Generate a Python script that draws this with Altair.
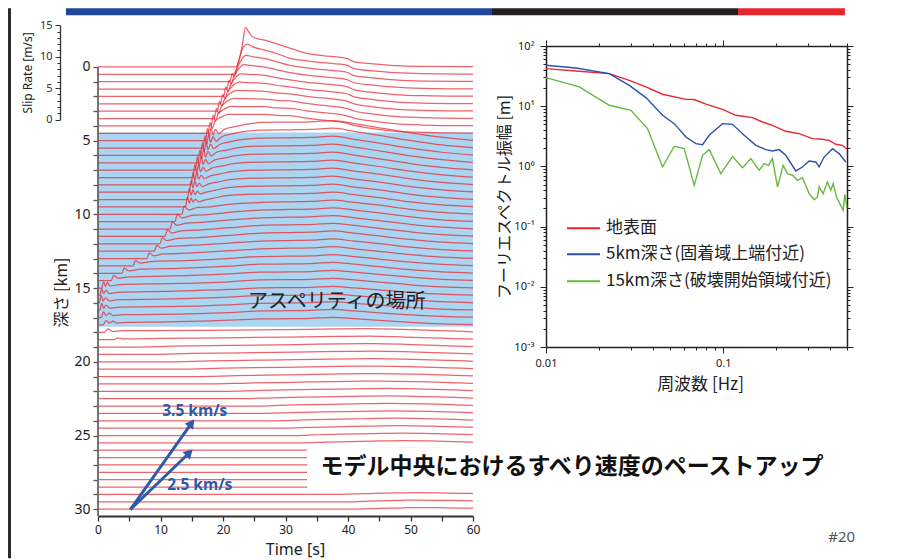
import altair as alt
import pandas as pd

# ---------------- panel geometry ----------------
LEFT_W, LEFT_H = 375, 470
RIGHT_W, RIGHT_H = 301, 301
GAP = 73
T_DOMAIN = [0, 60]
DEPTH_DOMAIN = [-1.42, 30.46]
PX_PER_KM = LEFT_H / (DEPTH_DOMAIN[1] - DEPTH_DOMAIN[0])
PX_PER_MS = 6.287                      # slip-rate scale bar: pixels per m/s
KM_PER_MS = PX_PER_MS / PX_PER_KM
SLIP_ZERO_DEPTH = 3.57                 # where the 0 of the slip-rate bar sits
SLIP_ZERO_PX = (SLIP_ZERO_DEPTH - DEPTH_DOMAIN[0]) * PX_PER_KM

RED = "#e8262f"
BLUE_TXT = "#2a5caa"
JP = "Noto Sans CJK JP"

# ---------------- slip-rate traces (time s, slip rate m/s) ----------------
upper_depths = [0.0, 0.5, 1.0, 1.5, 2.0, 2.5, 3.0, 3.5, 4.0, 4.5]
upper_front = [
    [(22.0, 0), (22.6, 1.2), (23.1, 3.5), (23.6, 6.3), (24.1, 5.6), (24.6, 4.9), (25.5, 4.5)],
    [(21.6, 0), (22.2, 1.0), (22.7, 2.8), (23.3, 4.4), (23.9, 4.8), (24.7, 4.4)],
    [(21.1, 0), (21.5, 1.3), (21.8, 0.8), (22.3, 2.2), (23.0, 3.6), (23.7, 4.2), (24.6, 4.0)],
    [(20.6, 0), (21.0, 1.4), (21.3, 0.8), (21.7, 1.9), (22.5, 3.2), (23.3, 3.9), (24.4, 3.75)],
    [(20.1, 0), (20.45, 1.5), (20.8, 0.8), (21.2, 1.8), (22.0, 3.0), (22.9, 3.6), (24.2, 3.5)],
    [(19.6, 0), (19.95, 1.5), (20.3, 0.8), (20.7, 1.8), (21.6, 2.9), (22.6, 3.45), (24.0, 3.35)],
    [(19.1, 0), (19.45, 1.6), (19.8, 0.8), (20.2, 1.8), (21.1, 2.8), (22.2, 3.3), (23.8, 3.25)],
    [(18.6, 0), (18.95, 1.6), (19.3, 0.8), (19.7, 1.8), (20.6, 2.7), (21.8, 3.2), (23.5, 3.15)],
    [(18.1, 0), (18.45, 1.7), (18.8, 0.8), (19.2, 1.9), (20.1, 2.6), (21.3, 3.1), (23.2, 3.05)],
    [(17.6, 0), (17.95, 1.7), (18.3, 0.8), (18.7, 1.9), (19.6, 2.5), (20.8, 3.0), (23.0, 3.0)],
]
upper_late_t = [26.7, 28.5, 30.7, 33.4, 36.0, 39.8, 41.0, 44.0, 47.5, 52.0, 60.0]
upper_late_v = [
    [4.25, 3.7, 3.0, 2.15, 1.8, 1.35, 0.8, 0.5, 0.22, 0.08, 0.03],
    [3.85, 3.35, 2.55, 2.15, 1.85, 1.45, 0.9, 0.55, 0.25, 0.1, 0.03],
    [3.65, 3.2, 2.6, 2.2, 1.9, 1.5, 0.95, 0.6, 0.28, 0.1, 0.03],
    [3.5, 3.1, 2.6, 2.2, 1.95, 1.5, 1.0, 0.62, 0.3, 0.12, 0.03],
    [3.35, 3.0, 2.65, 2.25, 2.0, 1.55, 1.05, 0.65, 0.3, 0.12, 0.03],
    [3.25, 2.95, 2.7, 2.3, 2.05, 1.6, 1.1, 0.68, 0.32, 0.12, 0.03],
    [3.15, 2.9, 2.75, 2.35, 2.1, 1.6, 1.15, 0.7, 0.33, 0.13, 0.03],
    [3.1, 2.9, 2.8, 2.4, 2.1, 1.6, 1.2, 0.72, 0.35, 0.14, 0.03],
    [3.05, 2.85, 2.8, 2.4, 2.1, 1.6, 1.25, 0.75, 0.35, 0.14, 0.03],
    [3.0, 2.85, 2.8, 2.4, 2.1, 1.6, 1.25, 0.75, 0.35, 0.14, 0.03],
]

blue_depths = [5.0, 5.5, 6.0, 6.5, 7.0, 7.5, 8.0, 8.5, 9.0, 9.5, 10.0, 10.5, 11.0,
               11.5, 12.0, 12.5, 13.0, 13.5, 14.0, 14.5, 15.0, 15.5, 16.0, 16.5, 17.0, 17.5]
blue_front = [
    [(17.2, 0), (17.5, 1.9), (17.8, 0.7), (18.1, 2.1), (18.4, 0.9), (18.8, 1.8), (19.3, 1.1), (20.2, 1.8), (21.7, 2.2), (23.7, 2.6)],
    [(16.8, 0), (17.1, 1.9), (17.4, 0.7), (17.7, 2.1), (18.0, 0.9), (18.4, 1.8), (18.9, 1.1), (19.8, 1.8), (21.3, 2.2), (23.3, 2.6)],
    [(16.4, 0), (16.7, 2.0), (17.0, 0.7), (17.3, 2.2), (17.6, 0.9), (18.0, 1.8), (18.5, 1.1), (19.4, 1.7), (20.9, 2.1), (22.9, 2.5)],
    [(16.0, 0), (16.3, 2.0), (16.6, 0.7), (16.9, 2.2), (17.2, 0.9), (17.6, 1.8), (18.1, 1.1), (19.0, 1.7), (20.5, 2.0), (22.5, 2.4)],
    [(15.6, 0), (15.9, 2.1), (16.2, 0.7), (16.5, 2.2), (16.8, 0.9), (17.2, 1.7), (17.7, 1.0), (18.6, 1.6), (20.1, 1.9), (22.1, 2.3)],
    [(15.2, 0), (15.5, 2.1), (15.8, 0.7), (16.1, 2.1), (16.4, 0.9), (16.8, 1.6), (17.3, 1.0), (18.2, 1.5), (19.7, 1.8), (21.7, 2.2)],
    [(14.9, 0), (15.2, 2.0), (15.5, 0.7), (15.8, 2.0), (16.1, 0.9), (16.5, 1.5), (17.0, 1.0), (17.9, 1.4), (19.4, 1.7), (21.4, 2.1)],
    [(14.6, 0), (14.9, 1.9), (15.2, 0.7), (15.5, 1.8), (15.8, 0.9), (16.2, 1.4), (16.7, 0.9), (17.6, 1.3), (19.1, 1.6), (21.1, 2.0)],
    [(14.3, 0), (14.6, 1.8), (14.9, 0.7), (15.2, 1.6), (15.5, 0.8), (15.9, 1.3), (16.4, 0.9), (17.3, 1.2), (18.8, 1.5), (20.8, 1.9)],
    [(14.0, 0), (14.3, 1.6), (14.6, 0.6), (14.9, 1.4), (15.2, 0.8), (15.6, 1.2), (16.1, 0.8), (17.0, 1.1), (18.5, 1.4), (20.5, 1.8)],
    [(13.4, 0), (13.8, 1.3), (14.5, 0.7), (16.0, 1.1), (18.0, 1.2), (21.0, 1.6)],
    [(12.3, 0), (12.7, 1.2), (13.4, 0.6), (15.0, 1.0), (17.5, 1.15), (21.0, 1.5)],
    [(11.5, 0), (11.9, 1.1), (12.6, 0.6), (14.2, 0.95), (17.0, 1.1), (21.0, 1.45)],
    [(10.7, 0), (11.1, 1.05), (11.8, 0.55), (13.4, 0.9), (16.5, 1.05), (21.0, 1.4)],
    [(9.9, 0), (10.3, 1.0), (11.0, 0.5), (12.6, 0.85), (16.0, 1.0), (21.0, 1.35)],
    [(9.0, 0), (9.4, 0.95), (10.1, 0.5), (11.7, 0.8), (15.5, 0.95), (21.0, 1.3)],
    [(7.8, 0), (8.2, 0.9), (8.9, 0.45), (10.5, 0.75), (15.0, 0.9), (21.0, 1.25)],
    [(5.6, 0), (6.0, 0.85), (6.7, 0.45), (8.5, 0.7), (14.0, 0.85), (21.0, 1.2)],
    [(3.8, 0), (4.2, 0.85), (4.9, 0.4), (6.8, 0.65), (13.0, 0.8), (21.0, 1.15)],
    [(2.1, 0), (2.5, 0.85), (3.2, 0.4), (5.0, 0.6), (12.0, 0.75), (21.0, 1.1)],
    [(0.6, 0), (0.9, 1.0), (1.2, 0.3), (1.5, 0.9), (1.9, 0.35), (3.5, 0.55), (11.0, 0.7), (21.0, 1.0)],
    [(0.3, 0), (0.6, 1.1), (0.9, 0.3), (1.3, 0.8), (1.8, 0.3), (3.2, 0.5), (10.5, 0.65), (21.0, 0.95)],
    [(0.2, 0), (0.5, 1.2), (0.8, 0.3), (1.2, 0.8), (1.8, 0.3), (3.2, 0.5), (10.0, 0.6), (21.0, 0.9)],
    [(0.3, 0), (0.6, 1.1), (0.9, 0.3), (1.3, 0.8), (1.9, 0.3), (3.4, 0.5), (10.0, 0.55), (21.0, 0.85)],
    [(0.5, 0), (0.9, 0.9), (1.3, 0.3), (1.8, 0.7), (2.4, 0.3), (4.0, 0.45), (10.0, 0.5), (21.0, 0.8)],
    [(0.8, 0), (1.3, 0.7), (1.8, 0.3), (2.4, 0.6), (3.0, 0.3), (4.8, 0.4), (10.0, 0.45), (21.0, 0.75)],
]
blue_late_t = [26.0, 30.7, 34.0, 37.6, 41.0, 45.0, 50.0, 55.0, 60.0]
blue_late_v = [
    [2.9, 2.95, 3.0, 3.2, 2.7, 2.05, 1.25, 0.55, 0.05],
    [2.85, 2.9, 2.95, 3.15, 2.65, 2.0, 1.2, 0.5, 0.05],
    [2.75, 2.8, 2.85, 3.05, 2.55, 1.95, 1.15, 0.5, 0.05],
    [2.65, 2.7, 2.75, 2.95, 2.5, 1.9, 1.1, 0.48, 0.05],
    [2.55, 2.6, 2.65, 2.85, 2.4, 1.8, 1.05, 0.45, 0.05],
    [2.45, 2.5, 2.55, 2.75, 2.3, 1.75, 1.0, 0.43, 0.05],
    [2.35, 2.4, 2.45, 2.65, 2.2, 1.7, 0.95, 0.4, 0.05],
    [2.25, 2.3, 2.35, 2.55, 2.1, 1.6, 0.9, 0.38, 0.05],
    [2.15, 2.2, 2.25, 2.45, 2.0, 1.55, 0.85, 0.36, 0.05],
    [2.05, 2.1, 2.15, 2.35, 1.95, 1.5, 0.8, 0.34, 0.05],
    [1.9, 2.0, 2.05, 2.25, 1.9, 1.45, 0.8, 0.32, 0.05],
    [1.85, 1.95, 2.0, 2.2, 1.85, 1.4, 0.78, 0.3, 0.05],
    [1.8, 1.9, 1.95, 2.15, 1.8, 1.35, 0.75, 0.3, 0.05],
    [1.75, 1.85, 1.9, 2.1, 1.75, 1.3, 0.72, 0.28, 0.05],
    [1.7, 1.8, 1.85, 2.05, 1.7, 1.25, 0.7, 0.27, 0.05],
    [1.6, 1.7, 1.75, 1.95, 1.6, 1.2, 0.66, 0.26, 0.05],
    [1.55, 1.65, 1.7, 1.9, 1.55, 1.15, 0.63, 0.25, 0.05],
    [1.5, 1.55, 1.6, 1.8, 1.5, 1.1, 0.6, 0.24, 0.05],
    [1.45, 1.5, 1.55, 1.75, 1.45, 1.05, 0.58, 0.23, 0.05],
    [1.35, 1.4, 1.45, 1.65, 1.35, 1.0, 0.55, 0.22, 0.05],
    [1.3, 1.35, 1.4, 1.55, 1.3, 0.95, 0.52, 0.2, 0.05],
    [1.2, 1.25, 1.3, 1.45, 1.2, 0.9, 0.5, 0.2, 0.05],
    [1.15, 1.2, 1.25, 1.4, 1.15, 0.85, 0.47, 0.19, 0.05],
    [1.1, 1.15, 1.2, 1.35, 1.1, 0.8, 0.45, 0.18, 0.05],
    [1.05, 1.1, 1.15, 1.3, 1.05, 0.75, 0.42, 0.17, 0.05],
    [0.95, 1.0, 1.05, 1.2, 1.0, 0.72, 0.4, 0.16, 0.05],
]

lower_depths = [18.0, 18.5, 19.0, 19.5, 20.0, 20.5, 21.0, 21.5, 22.0, 22.5, 23.0, 23.5,
                24.0, 24.5, 25.0, 25.5, 26.0, 26.5, 27.0, 27.5, 28.0, 28.5, 29.0, 29.5, 30.0]
lower_points = [
    [(1.0, 0), (1.6, 0.55), (2.3, 0.15), (4, 0.25), (15, 0.3), (30, 0.42), (38, 0.55), (43, 0.6), (49, 0.45), (55, 0.25), (60, 0.08)],
    [(2.5, 0), (3.2, 0.3), (4.0, 0.12), (10, 0.2), (20, 0.3), (30, 0.4), (38, 0.52), (43.5, 0.56), (49, 0.42), (55, 0.24), (60, 0.08)],
    [(5.5, 0), (12, 0.15), (22, 0.28), (32, 0.4), (39, 0.5), (44, 0.54), (50, 0.4), (55, 0.24), (60, 0.08)],
    [(8.0, 0), (15, 0.15), (25, 0.28), (34, 0.4), (40, 0.48), (44, 0.52), (50, 0.4), (55, 0.24), (60, 0.08)],
    [(10.5, 0), (18, 0.15), (27, 0.28), (35, 0.4), (41, 0.48), (44.5, 0.5), (50.5, 0.38), (56, 0.22), (60, 0.08)],
    [(13.0, 0), (20, 0.15), (29, 0.28), (36, 0.4), (42, 0.47), (45, 0.5), (51, 0.38), (56, 0.22), (60, 0.09)],
    [(15.5, 0), (22, 0.14), (30, 0.27), (37, 0.38), (42.5, 0.45), (45, 0.48), (51, 0.37), (56, 0.22), (60, 0.09)],
    [(17.5, 0), (24, 0.14), (31, 0.26), (38, 0.37), (43, 0.44), (45.5, 0.46), (51.5, 0.36), (56.5, 0.22), (60, 0.09)],
    [(20.0, 0), (26, 0.14), (32, 0.25), (39, 0.36), (44, 0.43), (46, 0.45), (52, 0.35), (57, 0.21), (60, 0.1)],
    [(22.5, 0), (28, 0.14), (34, 0.25), (40, 0.35), (46, 0.44), (52, 0.34), (57, 0.21), (60, 0.1)],
    [(24.5, 0), (30, 0.14), (35, 0.24), (41, 0.34), (46.5, 0.42), (52.5, 0.33), (57, 0.2), (60, 0.1)],
    [(26.0, 0), (31, 0.13), (36, 0.23), (42, 0.33), (47, 0.4), (53, 0.32), (57.5, 0.2), (60, 0.11)],
    [(28.0, 0), (33, 0.13), (37, 0.22), (42, 0.32), (47.5, 0.4), (53, 0.31), (58, 0.2), (60, 0.12)],
    [(30.0, 0), (34, 0.12), (38, 0.21), (43, 0.31), (48, 0.38), (53.5, 0.3), (58, 0.2), (60, 0.12)],
    [(31.5, 0), (35, 0.12), (39, 0.21), (44, 0.31), (48.5, 0.37), (54, 0.29), (60, 0.13)],
    [(33.0, 0), (36.5, 0.12), (40, 0.2), (45, 0.3), (49, 0.36), (54, 0.29), (60, 0.13)],
    [(34.0, 0), (37.5, 0.12), (41, 0.2), (45.5, 0.29), (49, 0.35), (54.5, 0.28), (60, 0.14)],
    [(35.0, 0), (38.5, 0.12), (42, 0.2), (46, 0.28), (49.5, 0.34), (55, 0.27), (60, 0.14)],
    [(35.5, 0), (39, 0.11), (42.5, 0.19), (46.5, 0.27), (50, 0.33), (55, 0.26), (60, 0.14)],
    [(36.0, 0), (39.5, 0.11), (43, 0.19), (47, 0.27), (50, 0.32), (55.5, 0.25), (60, 0.15)],
    [(36.5, 0), (40, 0.1), (43.5, 0.18), (47.5, 0.26), (50.5, 0.31), (56, 0.24), (60, 0.15)],
    [(37.0, 0), (40.5, 0.1), (44, 0.18), (48, 0.25), (50.5, 0.3), (56, 0.24), (60, 0.15)],
    [(37.5, 0), (41, 0.1), (44.5, 0.17), (48, 0.24), (51, 0.3), (56, 0.23), (60, 0.16)],
    [(39.5, 0), (42.5, 0.09), (45.5, 0.16), (48.5, 0.23), (51, 0.29), (56, 0.22), (60, 0.16)],
    [(40.5, 0), (43.5, 0.08), (46.5, 0.16), (49, 0.23), (51, 0.27), (56, 0.21), (60, 0.16)],
]

# ---------------- Fourier spectra ----------------
spec_names = ["地表面", "5km深さ(固着域上端付近)", "15km深さ(破壊開始領域付近)"]
spec_colors = ["#e8262f", "#2a52a8", "#66b83e"]
red_f = [0.01, 0.01476, 0.02276, 0.02951, 0.03664, 0.0455, 0.06161, 0.06865, 0.07987, 0.09918,
         0.1179, 0.1464, 0.1667, 0.1898, 0.2258, 0.2684, 0.3192, 0.3635, 0.3963, 0.4322, 0.4713, 0.4985]
red_a = [42.1, 38.5, 34.8, 26.9, 20.9, 15.8, 13.0, 12.9, 10.8, 8.88,
         7.06, 6.46, 5.47, 4.82, 3.83, 3.5, 2.89, 2.82, 2.71, 2.33, 2.24, 1.95]
blue_f = [0.01, 0.01476, 0.02276, 0.02951, 0.03664, 0.0455, 0.05294, 0.06161, 0.07015, 0.07648,
          0.08341, 0.09918, 0.1129, 0.1314, 0.1529, 0.1741, 0.1898, 0.207, 0.2258, 0.257,
          0.2803, 0.3057, 0.3333, 0.348, 0.3715, 0.4139, 0.4513, 0.492]
blue_a = [47.8, 43.2, 34.8, 22.2, 13.9, 7.06, 5.13, 3.08, 2.39, 2.3,
          3.29, 5.13, 5.0, 3.29, 2.24, 1.9, 1.8, 1.9, 1.53, 0.84,
          0.978, 1.23, 1.185, 0.978, 1.43, 1.97, 1.63, 1.185]
green_f = [0.01, 0.01542, 0.02276, 0.03016, 0.03744, 0.0455, 0.05294, 0.06029, 0.06865, 0.07648,
           0.08341, 0.09705, 0.1129, 0.1286, 0.1433, 0.1597, 0.1704, 0.1803, 0.1898, 0.2026,
           0.2181, 0.2307, 0.2462, 0.2627, 0.2803, 0.3057, 0.3262, 0.3406, 0.348, 0.3667,
           0.3878, 0.405, 0.4175, 0.436, 0.4552, 0.4754, 0.4858, 0.4985]
green_a = [29.8, 20.9, 10.35, 8.55, 4.24, 0.978, 2.16, 1.97, 0.485, 1.53,
           1.9, 0.758, 1.47, 0.954, 1.35, 0.861, 1.11, 1.04, 1.35, 0.455,
           1.04, 0.758, 0.711, 0.588, 0.651, 0.353, 0.28, 0.311, 0.455, 0.353,
           0.551, 0.401, 0.517, 0.311, 0.241, 0.187, 0.344, 0.212]

# ---------------- build tables ----------------
rows = []


def add_trace(depth, pts):
    if pts[0][0] > 0:
        pts = [(0.0, 0.0)] + list(pts)
    for t, v in pts:
        rows.append({"depth": depth, "t": t, "v": v})


for d, fr, lv in zip(upper_depths, upper_front, upper_late_v):
    add_trace(d, list(fr) + list(zip(upper_late_t, lv)))
for d, fr, lv in zip(blue_depths, blue_front, blue_late_v):
    add_trace(d, list(fr) + list(zip(blue_late_t, lv)))
for d, pts in zip(lower_depths, lower_points):
    add_trace(d, pts)
traces = pd.DataFrame(rows)
traces["y"] = traces["depth"] - traces["v"] * KM_PER_MS

spec = pd.concat([
    pd.DataFrame({"f": red_f, "A": red_a, "s": spec_names[0], "k": 0}),
    pd.DataFrame({"f": blue_f, "A": blue_a, "s": spec_names[1], "k": 1}),
    pd.DataFrame({"f": green_f, "A": green_a, "s": spec_names[2], "k": 2}),
])

# ---------------- left panel ----------------
xs_l = alt.Scale(domain=T_DOMAIN, nice=False, zero=False)
ys_l = alt.Scale(domain=DEPTH_DOMAIN, reverse=True, nice=False, zero=False)

x_axis_l = alt.Axis(orient="bottom", values=list(range(0, 61, 5)),
                    labelExpr="datum.value % 10 == 0 ? datum.label : ''",
                    tickSize=5, tickWidth=1.3, tickColor="#333", domainColor="#333",
                    domainWidth=2, labelFontSize=12, labelColor="#222", labelPadding=3,
                    labelFlush=False, labelOverlap=False, grid=False,
                    title="Time [s]", titleFontSize=16, titleFontWeight="normal",
                    titleColor="#222", titleX=197, titleY=33, titleBaseline="middle",
                    titleAlign="center")
y_axis_l = alt.Axis(orient="left", values=list(range(0, 31)),
                    labelExpr="datum.value % 5 == 0 ? datum.label : ''",
                    tickSize=5, tickWidth=1.3, tickColor="#555", domain=False,
                    labelFontSize=14, labelColor="#222", labelPadding=3,
                    labelFlush=False, labelOverlap=False, grid=False,
                    title="深さ [km]", titleFont=JP, titleFontSize=16,
                    titleFontWeight="normal", titleColor="#222", titlePadding=4,
                    titleY=246)

asp = pd.DataFrame({"t0": [0], "t1": [60], "d0": [4.45], "d1": [17.62]})
asp_rect = alt.Chart(asp).mark_rect(color="#abd5f0").encode(
    x=alt.X("t0:Q", scale=xs_l, axis=None), x2="t1:Q",
    y=alt.Y("d0:Q", scale=ys_l, axis=None), y2="d1:Q")

trace_lines = alt.Chart(traces).mark_line(
    color=RED, strokeWidth=1.25, opacity=0.72, interpolate="monotone").encode(
    x=alt.X("t:Q", scale=xs_l, axis=x_axis_l),
    y=alt.Y("y:Q", scale=ys_l, axis=y_axis_l),
    detail="depth:N")

axis_line = pd.DataFrame({"t": [0], "d0": [0.0], "d1": [DEPTH_DOMAIN[1]]})
y_axis_rule = alt.Chart(axis_line).mark_rule(color="#666", strokeWidth=1.8).encode(
    x=alt.X("t:Q", scale=xs_l, axis=None),
    y=alt.Y("d0:Q", scale=ys_l, axis=None), y2="d1:Q")

asp_label = pd.DataFrame({"t": [38.2], "d": [15.94], "txt": ["アスペリティの場所"]})
asp_text = alt.Chart(asp_label).mark_text(font=JP, fontSize=20, color="#222").encode(
    x=alt.X("t:Q", scale=xs_l, axis=None), y=alt.Y("d:Q", scale=ys_l, axis=None),
    text="txt:N")

box = pd.DataFrame({"t0": [33.44], "t1": [119.0], "d0": [25.8], "d1": [28.57]})
box_rect = alt.Chart(box).mark_rect(color="white").encode(
    x=alt.X("t0:Q", scale=xs_l, axis=None), x2="t1:Q",
    y=alt.Y("d0:Q", scale=ys_l, axis=None), y2="d1:Q")
box_label = pd.DataFrame({"t": [75.84], "d": [27.15],
                          "txt": ["モデル中央におけるすべり速度のペーストアップ"]})
box_text = alt.Chart(box_label).mark_text(font=JP, fontSize=23, fontWeight="bold",
                                          color="#111").encode(
    x=alt.X("t:Q", scale=xs_l, axis=None), y=alt.Y("d:Q", scale=ys_l, axis=None),
    text="txt:N")

arrows = pd.DataFrame({"t0": [5.17, 5.17], "d0": [30.02, 30.02],
                       "t1": [14.83, 14.46], "d1": [24.24, 26.24],
                       "ang": [35.3, 46.1]})
arrow_shaft = alt.Chart(arrows).mark_rule(color=BLUE_TXT, strokeWidth=3).encode(
    x=alt.X("t0:Q", scale=xs_l, axis=None), x2="t1:Q",
    y=alt.Y("d0:Q", scale=ys_l, axis=None), y2="d1:Q")
arrow_head = alt.Chart(arrows).mark_point(shape="triangle", filled=True, size=110,
                                          color=BLUE_TXT, opacity=1).encode(
    x=alt.X("t1:Q", scale=xs_l, axis=None), y=alt.Y("d1:Q", scale=ys_l, axis=None),
    angle=alt.Angle("ang:Q", scale=None))
speed_labels = pd.DataFrame({"t": [15.47, 16.27], "d": [23.35, 28.37],
                             "txt": ["3.5 km/s", "2.5 km/s"]})
speed_text = alt.Chart(speed_labels).mark_text(font="Open Sans", fontSize=15.5,
                                               fontWeight="bold", color=BLUE_TXT).encode(
    x=alt.X("t:Q", scale=xs_l, axis=None), y=alt.Y("d:Q", scale=ys_l, axis=None),
    text="txt:N")

deco = pd.DataFrame({
    "t0": [-14.4, -5.12, 63.04, 102.4],
    "t1": [-13.92, 63.04, 102.4, 119.5],
    "d0": [-3.98, -3.98, -3.98, -3.98],
    "d1": [33.32, -3.507, -3.507, -3.507],
    "c": ["#2b2b2b", "#1e469b", "#231f20", "#e8262f"]})
deco_rect = alt.Chart(deco).mark_rect().encode(
    x=alt.X("t0:Q", scale=xs_l, axis=None), x2="t1:Q",
    y=alt.Y("d0:Q", scale=ys_l, axis=None), y2="d1:Q",
    color=alt.Color("c:N", scale=None))

page_no = pd.DataFrame({"t": [119.0], "d": [31.9], "txt": ["#20"]})
page_text = alt.Chart(page_no).mark_text(fontSize=15, color="#555").encode(
    x=alt.X("t:Q", scale=xs_l, axis=None), y=alt.Y("d:Q", scale=ys_l, axis=None),
    text="txt:N")

inner_left = alt.layer(asp_rect, trace_lines, y_axis_rule, asp_text, box_rect, box_text,
                       arrow_shaft, arrow_head, speed_text, deco_rect,
                       page_text).resolve_axis(x="independent", y="independent")

slip = pd.DataFrame({"s": [0, 15]})
slip_axis = alt.Chart(slip).mark_point(opacity=0).encode(
    x=alt.value(0),
    y=alt.Y("s:Q",
            scale=alt.Scale(domain=[0, 15], range=[SLIP_ZERO_PX, SLIP_ZERO_PX - 15 * PX_PER_MS],
                            nice=False, zero=False),
            axis=alt.Axis(orient="left", offset=38, values=list(range(16)),
                          labelExpr="datum.value % 5 == 0 ? datum.label : ''",
                          tickSize={"condition": {"test": "datum.value % 5 == 0", "value": 5},
                                    "value": 3},
                          tickColor="#333", domainColor="#333", domainWidth=1.3,
                          labelFontSize=11, labelColor="#333", labelPadding=3,
                          labelFlush=False, labelOverlap=False, grid=False,
                          title="Slip Rate [m/s]", titleFontSize=12,
                          titleFontWeight="normal", titleColor="#222", titlePadding=5)))

left = alt.layer(inner_left, slip_axis).resolve_scale(y="independent").properties(
    width=LEFT_W, height=LEFT_H)

# ---------------- right panel ----------------
xs_r = alt.Scale(type="log", domain=[0.01, 0.5], nice=False)
ys_r = alt.Scale(type="log", domain=[0.001, 100], nice=False)
x_ticks = [0.01, 0.02, 0.03, 0.04, 0.05, 0.06, 0.07, 0.08, 0.09, 0.1, 0.2, 0.3, 0.4, 0.5]
y_ticks = [round(k * 10.0 ** e, 6) for e in range(-3, 2) for k in range(1, 10)] + [100.0]
x_major = "datum.value == 0.01 || datum.value == 0.1"
y_major = "indexof([0.001, 0.01, 0.1, 1, 10, 100], datum.value) >= 0"
y_label = ("datum.value == 100 ? '10²' : datum.value == 10 ? '10¹' : datum.value == 1 ? '10⁰' : "
           "datum.value == 0.1 ? '10⁻¹' : datum.value == 0.01 ? '10⁻²' : "
           "datum.value == 0.001 ? '10⁻³' : ''")
common = dict(domainColor="#222", domainWidth=1.5, tickColor="#222", tickWidth=1,
              grid=False, labelFlush=False, labelOverlap=False)
ax_bottom = alt.Axis(orient="bottom", values=x_ticks,
                     labelExpr="datum.value == 0.01 ? '0.01' : datum.value == 0.1 ? '0.1' : ''",
                     tickSize={"condition": {"test": x_major, "value": 6}, "value": 3},
                     labelFontSize=11, labelColor="#222", labelPadding=4,
                     title="周波数 [Hz]", titleFont=JP, titleFontSize=17,
                     titleFontWeight="normal", titleColor="#222",
                     titleX=154, titleY=37, titleBaseline="middle", titleAlign="center",
                     **common)
ax_left = alt.Axis(orient="left", values=y_ticks, labelExpr=y_label,
                   tickSize={"condition": {"test": y_major, "value": 6}, "value": 3},
                   labelFontSize=11, labelColor="#222", labelPadding=6,
                   title="フーリエスペクトル振幅 [m]", titleFont=JP, titleFontSize=16,
                   titleFontWeight="normal", titleColor="#222", titlePadding=1,
                   **common)
ax_top = alt.Axis(orient="top", values=x_ticks, labels=False, title=None,
                  tickSize={"condition": {"test": x_major, "value": 6}, "value": 3}, **common)
ax_right = alt.Axis(orient="right", values=y_ticks, labels=False, title=None,
                    tickSize={"condition": {"test": y_major, "value": 6}, "value": 3}, **common)

color_r = alt.Color("s:N", scale=alt.Scale(domain=spec_names, range=spec_colors), legend=None)
spec_lines = alt.Chart(spec).mark_line(strokeWidth=1.4).encode(
    x=alt.X("f:Q", scale=xs_r, axis=ax_bottom),
    y=alt.Y("A:Q", scale=ys_r, axis=ax_left),
    color=color_r, order="f:Q")
frame = alt.Chart(spec).mark_point(opacity=0).encode(
    x=alt.X("f:Q", scale=xs_r, axis=ax_top),
    y=alt.Y("A:Q", scale=ys_r, axis=ax_right))

legend_df = pd.DataFrame({"s": spec_names, "f1": [0.01314] * 3, "f2": [0.02017] * 3,
                          "ft": [0.02181] * 3, "A": [0.0937, 0.0347, 0.01233]})
legend_rules = alt.Chart(legend_df).mark_rule(strokeWidth=2).encode(
    x=alt.X("f1:Q", scale=xs_r, axis=None), x2="f2:Q",
    y=alt.Y("A:Q", scale=ys_r, axis=None), color=color_r)
legend_text = alt.Chart(legend_df).mark_text(font=JP, fontSize=17, align="left",
                                             color="#222").encode(
    x=alt.X("ft:Q", scale=xs_r, axis=None), y=alt.Y("A:Q", scale=ys_r, axis=None),
    text="s:N")

right = alt.layer(spec_lines, legend_rules, legend_text, frame).resolve_axis(
    x="independent", y="independent").properties(width=RIGHT_W, height=RIGHT_H)

chart = alt.hconcat(left, right, spacing=GAP, bounds="flush").properties(
    padding=0).configure(font="Noto Sans").configure_view(stroke=None)

chart.save("out.html", embed_options={"renderer": "svg", "actions": False})
